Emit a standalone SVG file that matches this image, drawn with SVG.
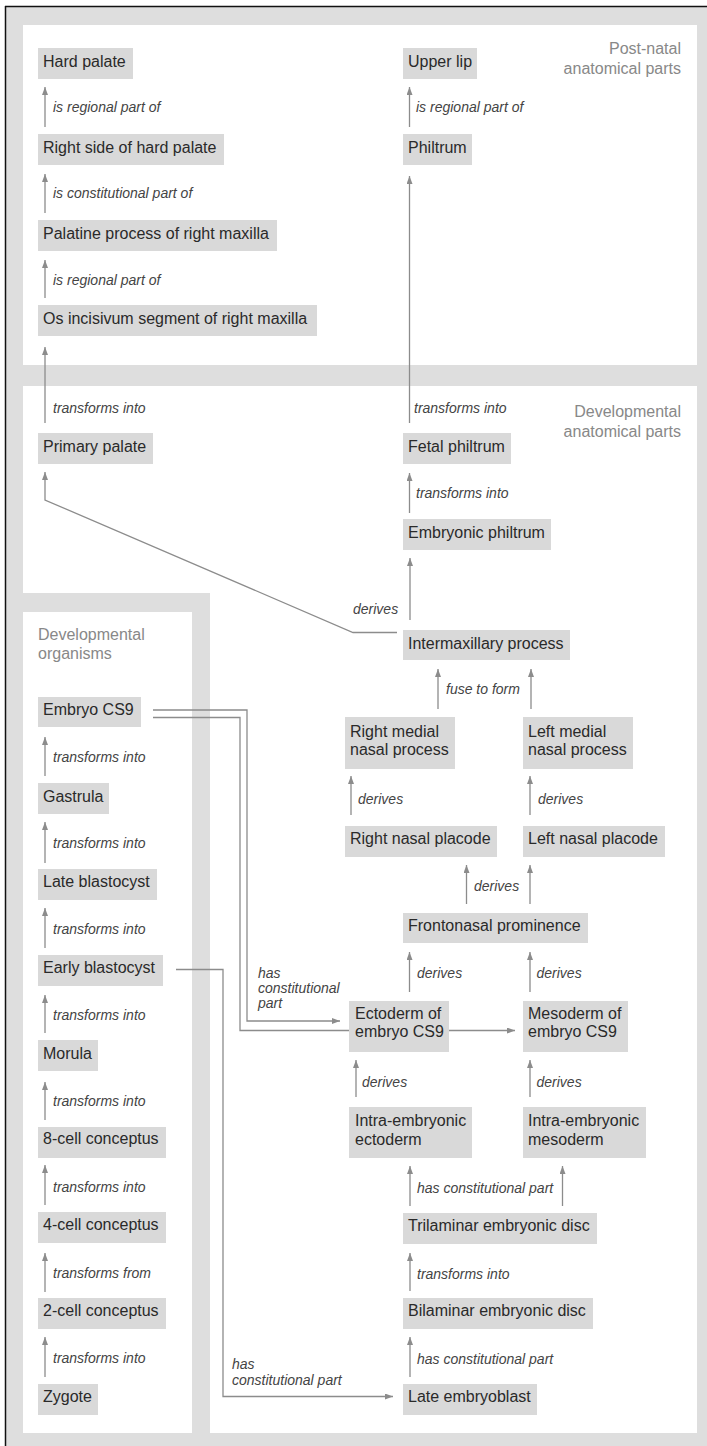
<svg xmlns="http://www.w3.org/2000/svg" width="707" height="1446" viewBox="0 0 707 1446">
<style>
.n rect{fill:#d9d9d9}
.n text{font-family:"Liberation Sans",Arial,sans-serif;font-size:16px;fill:#2a2a2a}
.lb{font-family:"Liberation Sans",Arial,sans-serif;font-size:14px;font-style:italic;fill:#444}
.hd{font-family:"Liberation Sans",Arial,sans-serif;font-size:16px;fill:#888}
.e{fill:none;stroke:#8c8c8c;stroke-width:1.3;marker-end:url(#ah)}
.d{fill:none;stroke:#8c8c8c;stroke-width:1.3}
</style>
<defs>
<marker id="ah" markerUnits="userSpaceOnUse" markerWidth="9" markerHeight="7" refX="8" refY="3" orient="auto">
<path d="M0,0 L8,3 L0,6 z" fill="#8c8c8c"/>
</marker>
</defs>
<g id="background">
<rect x="5" y="6" width="702" height="1440" fill="#dedede"/>
<line x1="5" y1="6.5" x2="707" y2="6.5" stroke="#111" stroke-width="1.5"/>
<line x1="5.5" y1="6" x2="5.5" y2="1446" stroke="#111" stroke-width="1.5"/>
<rect x="23" y="25" width="674" height="340" fill="#fff"/>
<path d="M23,386 H697 V1433 H210 V593 H23 Z" fill="#fff"/>
<rect x="23" y="612" width="169" height="821" fill="#fff"/>
<text class="hd" x="681" y="54" text-anchor="end">Post-natal</text>
<text class="hd" x="681" y="74" text-anchor="end">anatomical parts</text>
<text class="hd" x="681" y="417" text-anchor="end">Developmental</text>
<text class="hd" x="681" y="437" text-anchor="end">anatomical parts</text>
<text class="hd" x="38" y="640">Developmental</text>
<text class="hd" x="38" y="659">organisms</text>
</g>
<g id="connectors">
<path class="e" d="M45,127 V87"/>
<text class="lb" x="53" y="112">is regional part of</text>
<path class="e" d="M45,213 V174"/>
<text class="lb" x="53" y="198">is constitutional part of</text>
<path class="e" d="M45,298 V260"/>
<text class="lb" x="53" y="285">is regional part of</text>
<path class="e" d="M45,423 V347"/>
<text class="lb" x="53" y="413">transforms into</text>
<path class="e" d="M409.5,127 V87"/>
<text class="lb" x="416" y="112">is regional part of</text>
<path class="e" d="M409.5,423 V176"/>
<text class="lb" x="414" y="413">transforms into</text>
<path class="e" d="M409.5,513 V473"/>
<text class="lb" x="416" y="498">transforms into</text>
<path class="e" d="M410,620 V558"/>
<path class="e" d="M397,632.5 H353 L45,500 V472"/>
<text class="lb" x="353" y="614">derives</text>
<path class="e" d="M438,709 V669"/>
<path class="e" d="M531,709 V669"/>
<text class="lb" x="446" y="694">fuse to form</text>
<path class="e" d="M351,815 V776"/>
<text class="lb" x="358" y="804">derives</text>
<path class="e" d="M530,815 V776"/>
<text class="lb" x="538" y="804">derives</text>
<path class="e" d="M466.5,904 V865"/>
<path class="e" d="M530,904 V865"/>
<text class="lb" x="474" y="891">derives</text>
<path class="e" d="M409.5,992 V952"/>
<text class="lb" x="417" y="978">derives</text>
<path class="e" d="M530,992 V952"/>
<text class="lb" x="536.5" y="978">derives</text>
<path class="e" d="M153,710 H247 V1021 H340"/>
<path class="e" d="M153,717.5 H240 V1030.5 H515"/>
<text class="lb" x="258" y="978">has</text>
<text class="lb" x="258" y="993">constitutional</text>
<text class="lb" x="258" y="1008">part</text>
<path class="e" d="M176,969.5 H223 V1396.5 H393"/>
<text class="lb" x="232" y="1369">has</text>
<text class="lb" x="232" y="1385">constitutional part</text>
<path class="e" d="M356,1097 V1060"/>
<text class="lb" x="362" y="1087">derives</text>
<path class="e" d="M530,1097 V1060"/>
<text class="lb" x="536.5" y="1087">derives</text>
<path class="e" d="M410,1206 V1166"/>
<path class="e" d="M562.5,1206 V1166"/>
<text class="lb" x="417" y="1193">has constitutional part</text>
<path class="e" d="M410,1291 V1253"/>
<text class="lb" x="417" y="1279">transforms into</text>
<path class="e" d="M410,1377 V1337"/>
<text class="lb" x="417" y="1364">has constitutional part</text>
<path class="e" d="M45,776 V737"/>
<text class="lb" x="53" y="762">transforms into</text>
<path class="e" d="M45,863 V822"/>
<text class="lb" x="53" y="848">transforms into</text>
<path class="e" d="M45,948 V908"/>
<text class="lb" x="53" y="934">transforms into</text>
<path class="e" d="M45,1033 V995"/>
<text class="lb" x="53" y="1020">transforms into</text>
<path class="e" d="M45,1120 V1082"/>
<text class="lb" x="53" y="1106">transforms into</text>
<path class="e" d="M45,1205 V1165"/>
<text class="lb" x="53" y="1192">transforms into</text>
<path class="e" d="M45,1292 V1253"/>
<text class="lb" x="53" y="1278">transforms from</text>
<path class="e" d="M45,1377 V1337"/>
<text class="lb" x="53" y="1363">transforms into</text>
</g>
<g id="hard-palate" class="n"><rect x="38" y="48" width="95" height="31"/><text x="43" y="67">Hard palate</text></g>
<g id="right-side-hard-palate" class="n"><rect x="38" y="134" width="186" height="31"/><text x="43" y="153">Right side of hard palate</text></g>
<g id="palatine-process" class="n"><rect x="38" y="220" width="239" height="31"/><text x="43" y="239">Palatine process of right maxilla</text></g>
<g id="os-incisivum" class="n"><rect x="38" y="305" width="279" height="31"/><text x="43" y="324">Os incisivum segment of right maxilla</text></g>
<g id="upper-lip" class="n"><rect x="403" y="48" width="74" height="31"/><text x="408" y="67">Upper lip</text></g>
<g id="philtrum" class="n"><rect x="403" y="134" width="69" height="31"/><text x="408" y="153">Philtrum</text></g>
<g id="primary-palate" class="n"><rect x="38" y="433" width="115" height="31"/><text x="43" y="452">Primary palate</text></g>
<g id="fetal-philtrum" class="n"><rect x="403" y="433" width="108" height="31"/><text x="408" y="452">Fetal philtrum</text></g>
<g id="embryonic-philtrum" class="n"><rect x="403" y="519" width="148" height="31"/><text x="408" y="538">Embryonic philtrum</text></g>
<g id="intermaxillary-process" class="n"><rect x="403" y="630" width="167" height="30"/><text x="408" y="649">Intermaxillary process</text></g>
<g id="right-medial-nasal-process" class="n"><rect x="345" y="717" width="110" height="52"/><text x="350" y="737">Right medial</text><text x="350" y="755">nasal process</text></g>
<g id="left-medial-nasal-process" class="n"><rect x="523" y="717" width="110" height="52"/><text x="528" y="737">Left medial</text><text x="528" y="755">nasal process</text></g>
<g id="right-nasal-placode" class="n"><rect x="345" y="826" width="152" height="31"/><text x="350" y="844">Right nasal placode</text></g>
<g id="left-nasal-placode" class="n"><rect x="523" y="826" width="142" height="31"/><text x="528" y="844">Left nasal placode</text></g>
<g id="frontonasal-prominence" class="n"><rect x="403" y="913" width="185" height="30"/><text x="408" y="931">Frontonasal prominence</text></g>
<g id="ectoderm-cs9" class="n"><rect x="349" y="1001" width="100" height="51"/><text x="355" y="1019">Ectoderm of</text><text x="355" y="1037">embryo CS9</text></g>
<g id="mesoderm-cs9" class="n"><rect x="523" y="1001" width="105" height="51"/><text x="528" y="1019">Mesoderm of</text><text x="528" y="1037">embryo CS9</text></g>
<g id="intra-embryonic-ectoderm" class="n"><rect x="349" y="1107" width="123" height="51"/><text x="355" y="1126">Intra-embryonic</text><text x="355" y="1145">ectoderm</text></g>
<g id="intra-embryonic-mesoderm" class="n"><rect x="523" y="1107" width="123" height="51"/><text x="528" y="1126">Intra-embryonic</text><text x="528" y="1145">mesoderm</text></g>
<g id="trilaminar-disc" class="n"><rect x="403" y="1213" width="194" height="31"/><text x="408" y="1231">Trilaminar embryonic disc</text></g>
<g id="bilaminar-disc" class="n"><rect x="403" y="1298" width="190" height="31"/><text x="408" y="1316">Bilaminar embryonic disc</text></g>
<g id="late-embryoblast" class="n"><rect x="403" y="1384" width="134" height="31"/><text x="408" y="1402">Late embryoblast</text></g>
<g id="embryo-cs9" class="n"><rect x="38" y="697" width="103" height="30"/><text x="43" y="715">Embryo CS9</text></g>
<g id="gastrula" class="n"><rect x="38" y="783" width="71" height="31"/><text x="43" y="802">Gastrula</text></g>
<g id="late-blastocyst" class="n"><rect x="38" y="869" width="119" height="31"/><text x="43" y="887">Late blastocyst</text></g>
<g id="early-blastocyst" class="n"><rect x="38" y="955" width="125" height="31"/><text x="43" y="973">Early blastocyst</text></g>
<g id="morula" class="n"><rect x="38" y="1040" width="60" height="31"/><text x="43" y="1059">Morula</text></g>
<g id="cell8" class="n"><rect x="38" y="1127" width="128" height="31"/><text x="43" y="1144">8-cell conceptus</text></g>
<g id="cell4" class="n"><rect x="38" y="1212" width="128" height="31"/><text x="43" y="1230">4-cell conceptus</text></g>
<g id="cell2" class="n"><rect x="38" y="1298" width="128" height="31"/><text x="43" y="1316">2-cell conceptus</text></g>
<g id="zygote" class="n"><rect x="38" y="1384" width="60" height="31"/><text x="43" y="1402">Zygote</text></g>
</svg>
